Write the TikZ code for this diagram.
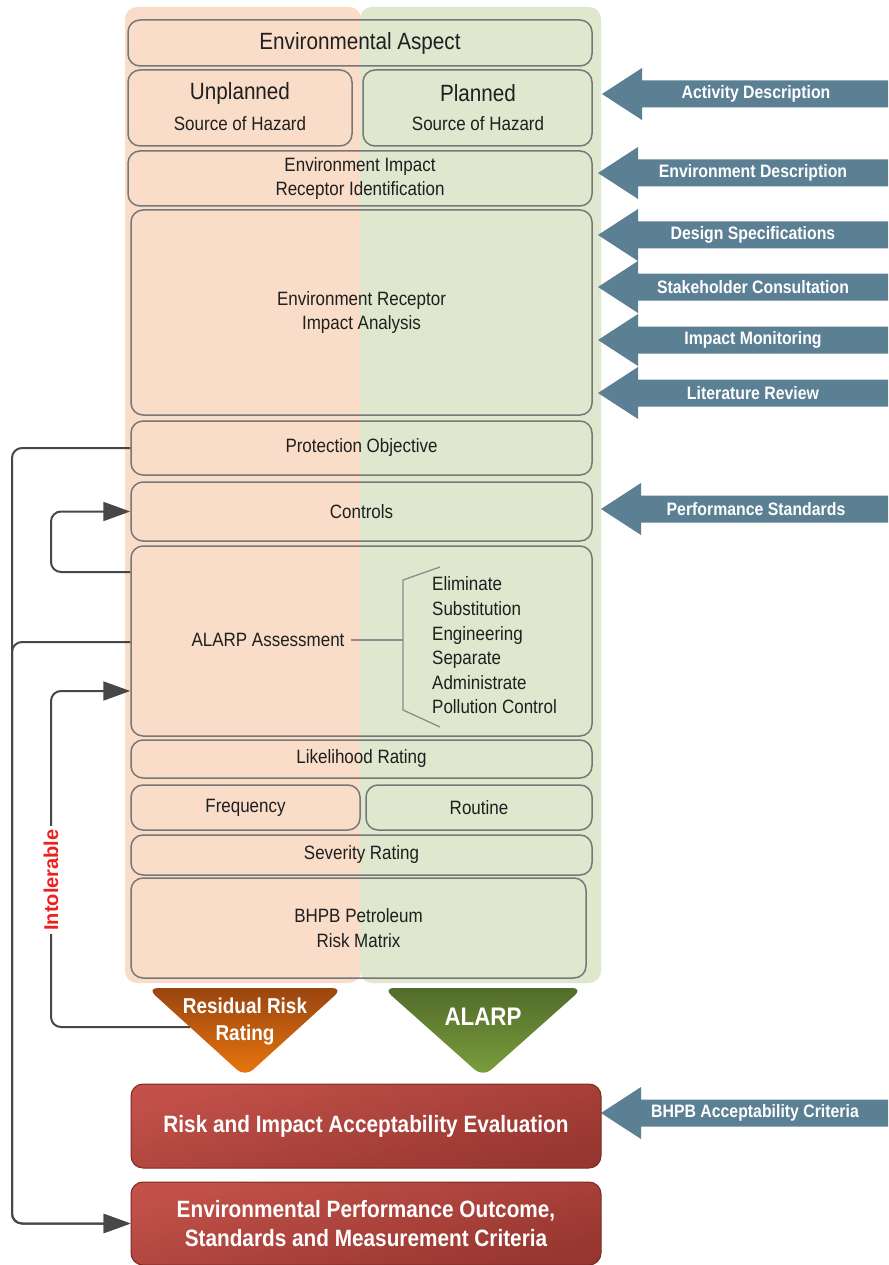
\documentclass[tikz,border=0pt]{standalone}
\usepackage{fontspec}
\setmainfont{Liberation Sans}[FakeStretch=0.88]
\newfontfamily\widef{Liberation Sans}
\usetikzlibrary{arrows.meta,calc}
\definecolor{orpanel}{HTML}{F9DDC9}
\definecolor{grpanel}{HTML}{DFE7CE}
\definecolor{boxgray}{HTML}{777777}
\definecolor{txt}{HTML}{1F1F1F}
\definecolor{conncol}{HTML}{474747}
\definecolor{bluearr}{HTML}{5B7F93}
\definecolor{redA}{HTML}{C2514A}
\definecolor{redB}{HTML}{96362F}
\definecolor{redE}{HTML}{7A2A25}
\definecolor{orA}{HTML}{9A4510}
\definecolor{orB}{HTML}{EA770E}
\definecolor{gnA}{HTML}{526C2B}
\definecolor{gnB}{HTML}{7C9E3D}
\definecolor{intol}{HTML}{F01E1E}
\definecolor{brk}{HTML}{8C8C8C}
\newcommand\regf{\fontsize{19.3}{24.6}\selectfont}
\newcommand\bigf{\fontsize{23.5}{28}\selectfont}
\newcommand\arrf{\fontsize{18}{22}\selectfont\bfseries}
\newcommand\redf{\fontsize{23.6}{29}\selectfont\bfseries}
\tikzset{
 box/.style={draw=boxgray, line width=1.5pt, rounded corners=12pt, inner sep=0pt, align=center, text=txt, font=\regf},
 plain/.style={inner sep=0pt, align=center, text=txt, font=\regf},
 conn/.style={draw=conncol, line width=2pt, rounded corners=10pt},
 tipped/.style={-{Triangle[length=27pt,width=19pt]}},
 arrlabel/.style={text=white, font=\arrf, inner sep=0pt},
 redbox/.style={draw=redE, line width=1pt, rounded corners=12pt, top color=redA, bottom color=redB, shading angle=15, text=white, font=\redf, align=center, inner sep=0pt},
 whitelab/.style={text=white, inner sep=0pt, align=center}
}
\newcommand\bx[6]{%
 \pgfmathsetmacro\bw{#4-#2}\pgfmathsetmacro\bh{#5-#3}%
 \node[box, minimum width=\bw pt, minimum height=\bh pt] (#1) at ({(#2+#4)/2},{(#3+#5)/2}) {#6};}
\newcommand\barrow[5]{%
 \fill[bluearr] (#2,#3) -- ({#2+40},{#3-26}) -- ({#2+40},{#3-13.5}) -- (888,{#3-13.5}) -- (888,{#3+13.5}) -- ({#2+40},{#3+13.5}) -- ({#2+40},{#3+26}) -- cycle;
 \node[arrlabel] (#1) at (#5,#3) {#4};}
\begin{document}
\begin{tikzpicture}[x=1pt,y=-1pt]
\useasboundingbox (0,0) rectangle (888,1265);
\fill[white] (0,0) rectangle (888,1265);
% panels
\fill[orpanel, rounded corners=12pt] (125,7) rectangle (361,983);
\fill[grpanel, rounded corners=12pt] (360,7) rectangle (601,983);
% boxes
\bx{ea}{128}{20}{592}{66}{\bigf Environmental Aspect}
\bx{unpl}{128}{70}{352}{146}{}
\bx{pl}{363}{70}{592}{146}{}
\node[plain, font=\bigf] (unplT) at (240,93) {Unplanned};
\node[plain] (unplS) at (240,124) {Source of Hazard};
\node[plain, font=\bigf] (plT) at (478,93) {Planned};
\node[plain] (plS) at (478,124) {Source of Hazard};
\bx{eiri}{128}{151}{592}{206}{Environment Impact\\Receptor Identification}
\bx{eria}{131}{210}{592}{415}{Environment Receptor\\Impact Analysis}
\bx{prot}{131}{421}{592}{475}{Protection Objective}
\bx{ctrl}{131}{482}{592}{541}{Controls}
\bx{alarp}{131}{546}{592}{736}{}
\bx{lik}{131}{740}{592}{778}{Likelihood Rating}
\bx{freq}{131}{785}{360}{830}{Frequency}
\bx{rout}{366}{785}{592}{830}{Routine}
\bx{sev}{131}{835}{592}{875}{Severity Rating}
\bx{bhpb}{131}{878}{586}{978}{BHPB Petroleum\\Risk Matrix}
% ALARP assessment content
\node[plain] (alarpT) at (268,640) {ALARP Assessment};
\node[plain, anchor=west, align=left] (opts) at (432,645.5) {Eliminate\\Substitution\\Engineering\\Separate\\Administrate\\Pollution Control};
\coordinate (bk) at (403,640);
\draw[brk, line width=1.3pt] ([xshift=6pt]alarpT.east |- bk) -- (bk);
\draw[brk, line width=1.3pt] (440,567) -- (403,580) -- (403,710) -- (440,727);
% blue arrows
\barrow{aD}{602}{94}{Activity Description}{756}
\barrow{eD}{598}{173}{Environment Description}{753}
\barrow{dS}{598}{235}{Design Specifications}{753}
\barrow{sC}{598}{287}{Stakeholder Consultation}{753}
\barrow{iM}{598}{340}{Impact Monitoring}{753}
\barrow{lR}{598}{393}{Literature Review}{753}
\barrow{pS}{601}{509}{Performance Standards}{756}
\barrow{bA}{601}{1113}{BHPB Acceptability Criteria}{755}
% triangles
\shade[top color=orA, bottom color=orB, rounded corners=11pt] (147,988) -- (343,988) -- (245,1077) -- cycle;
\shade[top color=gnA, bottom color=gnB, rounded corners=11pt] (383,988) -- (583,988) -- (483,1077) -- cycle;
\node[whitelab, font=\fontsize{21.5}{27}\selectfont\bfseries] (rrr) at (245,1021.5) {Residual Risk\\Rating};
\node[whitelab, font=\fontsize{25.4}{30}\selectfont\bfseries] (alT) at (483,1017) {ALARP};
\coordinate (rrL) at (190,1027);
% red boxes
\node[redbox, minimum width=470pt, minimum height=84pt] (rie) at (366,1126) {Risk and Impact Acceptability Evaluation};
\node[redbox, minimum width=470pt, minimum height=83pt] (epo) at (366,1223.5) {Environmental Performance Outcome,\\Standards and Measurement Criteria};
% connectors
\coordinate (k1) at (12,448);
\coordinate (k2) at (12,642);
\coordinate (c1) at (51,572);
\coordinate (i1) at (51,1027);
\coordinate (i2) at (51,691);
\draw[conn, tipped] (prot.west) -- (k1) |- (epo.west);
\draw[conn, tipped] (alarp.west |- k2) -- (k2) |- (epo.west);
\draw[conn, tipped] (alarp.west |- c1) -- (c1) |- (ctrl.west);
\draw[conn, tipped] (rrL) -- (i1) -- (i2) -- (alarp.west |- i2);
\node[rotate=90, fill=white, text=intol, font=\widef\bfseries\fontsize{20}{24}\selectfont, inner sep=3pt] (intolT) at (51,880) {Intolerable};
\end{tikzpicture}
\end{document}
